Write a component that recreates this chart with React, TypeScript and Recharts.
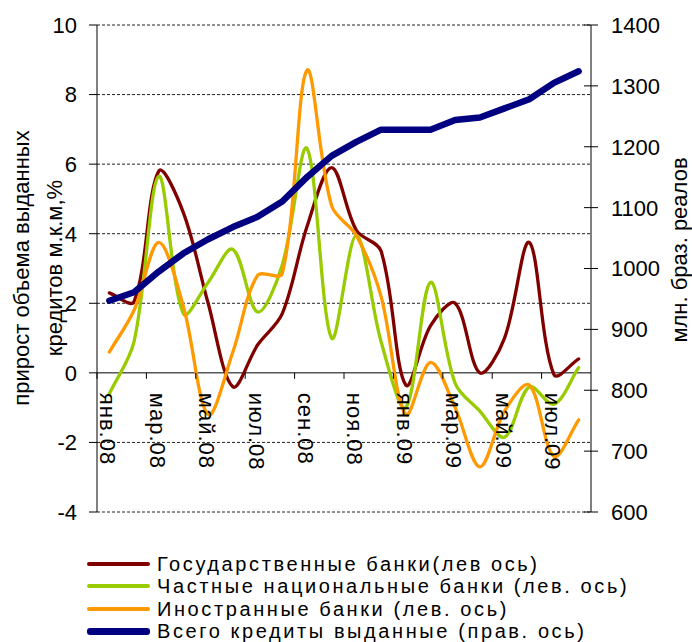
import React from 'react';
import { LineChart, Line, XAxis, YAxis, ReferenceLine } from 'recharts';

const months = [
    'янв.08', 'фев.08', 'мар.08', 'апр.08', 'май.08', 'июн.08', 'июл.08', 'авг.08', 'сен.08', 'окт.08',
    'ноя.08', 'дек.08', 'янв.09', 'фев.09', 'мар.09', 'апр.09', 'май.09', 'июн.09', 'июл.09', 'авг.09',
];
const stateBanks = [2.3, 2.05, 5.8, 4.6, 2.0, -0.4, 0.8, 1.7, 4.2, 5.9, 4.1, 3.5, -0.35, 1.35, 2.0, 0.0, 1.0, 3.75, -0.05, 0.4];
const privateBanks = [-0.6, 0.9, 5.65, 1.7, 2.6, 3.55, 1.75, 3.1, 6.45, 1.0, 3.95, 0.9, -1.0, 2.6, -0.3, -1.1, -1.85, -0.4, -0.9, 0.15];
const foreignBanks = [0.6, 1.8, 3.75, 1.9, -1.2, 0.6, 2.8, 2.85, 8.7, 4.8, 3.95, 2.2, -1.2, 0.3, -1.0, -2.7, -1.1, -0.35, -2.4, -1.35];
const totalCredit = [947, 961, 995, 1025, 1048, 1068, 1085, 1110, 1150, 1185, 1208, 1228, 1228, 1228, 1244, 1248, 1263, 1278, 1305, 1324];

const leftTicks = [-4, -2, 0, 2, 4, 6, 8, 10];
const rightTicks = [600, 700, 800, 900, 1000, 1100, 1200, 1300, 1400];

const series = [
    { key: 'state', name: 'Государственные банки(лев ось)', color: '#800000', width: 3.3 },
    { key: 'private', name: 'Частные национальные банки (лев. ось)', color: '#99CC00', width: 3.3 },
    { key: 'foreign', name: 'Иностранные банки (лев. ось)', color: '#FF9900', width: 3.3 },
    { key: 'total', name: 'Всего кредиты выданные (прав. ось)', color: '#000080', width: 6.5 },
];

const rows = months.map((m, i) => ({
    month: m,
    state: stateBanks[i],
    private: privateBanks[i],
    foreign: foreignBanks[i],
    total: totalCredit[i],
}));

const FONT = '"Liberation Sans", Arial, sans-serif';
const W = 692;
const H = 642;
const TOP = 25;
const LEFT_W = 97;
const RIGHT_W = 101;
const X_H = 130;
const PLOT_W = W - LEFT_W - RIGHT_W;
const PLOT_H = H - TOP - X_H;
const PLOT_RIGHT = W - RIGHT_W;
const HALF_BAND = PLOT_W / months.length / 2;
const ZERO_Y = TOP + PLOT_H * (10 / 14);

// excel-like smoothing: bezier through the points, tangents scaled by segment lengths
const excelSmooth = (context: any) => {
    let pts: number[][] = [];
    const dist = (a: number[], b: number[]) => Math.hypot(b[0] - a[0], b[1] - a[1]);
    return {
        areaStart() {},
        areaEnd() {},
        lineStart() { pts = []; },
        point(x: number, y: number) { pts.push([+x, +y]); },
        lineEnd() {
            const n = pts.length;
            if (!n) return;
            context.moveTo(pts[0][0], pts[0][1]);
            for (let i = 0; i < n - 1; i++) {
                const p0 = pts[Math.max(i - 1, 0)];
                const p1 = pts[i];
                const p2 = pts[i + 1];
                const p3 = pts[Math.min(i + 2, n - 1)];
                const d01 = dist(p0, p1);
                const d12 = dist(p1, p2);
                const d23 = dist(p2, p3);
                const a = d01 + d12 > 0 ? (d12 / (d01 + d12)) / 3 : 0;
                const b = d12 + d23 > 0 ? (d12 / (d12 + d23)) / 3 : 0;
                context.bezierCurveTo(
                    p1[0] + (p2[0] - p0[0]) * a, p1[1] + (p2[1] - p0[1]) * a,
                    p2[0] - (p3[0] - p1[0]) * b, p2[1] - (p3[1] - p1[1]) * b,
                    p2[0], p2[1]
                );
            }
        },
    };
};

const renderMonthTick = (props: any) => {
    const { x, index, payload } = props;
    if (index % 2 !== 0) return <g />;
    const ty = ZERO_Y + 20;
    const tx = x - 1.5;
    return (
        <g>
            <line x1={x - HALF_BAND} x2={x - HALF_BAND} y1={ZERO_Y} y2={ZERO_Y + 6} stroke="#000" />
            <text
                x={tx}
                y={ty}
                transform={`rotate(90, ${tx}, ${ty})`}
                textAnchor="start"
                dominantBaseline="central"
                fontSize={22}
                fontFamily={FONT}
                letterSpacing={1}
                fill="#000"
            >
                {payload.value}
            </text>
        </g>
    );
};

const renderRightTick = (props: any) => {
    const { y, payload } = props;
    return (
        <g>
            <line x1={PLOT_RIGHT - 7} x2={PLOT_RIGHT + 7} y1={y} y2={y} stroke="#000" />
            <text x={PLOT_RIGHT + 20} y={y} dy="0.36em" fontSize={22} fontFamily={FONT} fill="#000">
                {payload.value}
            </text>
        </g>
    );
};

const App: React.FC = () => {
    return (
        <div style={{ position: 'relative', width: W, height: H, fontFamily: FONT, color: '#000' }}>
            <style>{'body{margin:0}'}</style>
            <LineChart width={W} height={H} data={rows} margin={{ top: TOP, right: 0, bottom: 0, left: 0 }}>
                {leftTicks.filter(t => t !== 0).map(t => (
                    <ReferenceLine key={t} y={t} yAxisId="left" stroke="#222" strokeDasharray="3 2" />
                ))}
                <ReferenceLine y={0} yAxisId="left" stroke="#000" />
                <XAxis
                    dataKey="month"
                    interval={0}
                    axisLine={false}
                    tickLine={false}
                    height={X_H}
                    padding={{ left: HALF_BAND, right: HALF_BAND }}
                    tick={renderMonthTick}
                />
                <YAxis
                    yAxisId="left"
                    width={LEFT_W}
                    domain={[-4, 10]}
                    ticks={leftTicks}
                    interval={0}
                    tickSize={8}
                    tickMargin={12}
                    axisLine={{ stroke: '#000' }}
                    tickLine={{ stroke: '#000' }}
                    tick={{ fill: '#000', fontSize: 22, fontFamily: FONT }}
                />
                <YAxis
                    yAxisId="right"
                    orientation="right"
                    width={RIGHT_W}
                    domain={[600, 1400]}
                    ticks={rightTicks}
                    interval={0}
                    tickLine={false}
                    axisLine={{ stroke: '#000' }}
                    tick={renderRightTick}
                />
                {series.slice(0, 3).map(s => (
                    <Line
                        key={s.key}
                        yAxisId="left"
                        dataKey={s.key}
                        name={s.name}
                        type={excelSmooth as any}
                        stroke={s.color}
                        strokeWidth={s.width}
                        strokeLinejoin="round"
                        strokeLinecap="round"
                        dot={false}
                        activeDot={false}
                        isAnimationActive={false}
                    />
                ))}
                <Line
                    yAxisId="right"
                    dataKey="total"
                    name={series[3].name}
                    type="linear"
                    stroke={series[3].color}
                    strokeWidth={series[3].width}
                    strokeLinejoin="round"
                    strokeLinecap="round"
                    dot={false}
                    activeDot={false}
                    isAnimationActive={false}
                />
            </LineChart>

            <div
                style={{
                    position: 'absolute', left: 38, top: 268, transform: 'translate(-50%, -50%) rotate(-90deg)',
                    whiteSpace: 'nowrap', textAlign: 'center', fontSize: 22, lineHeight: '33px',
                }}
            >
                прирост объема выданных<br />кредитов м.к.м,%
            </div>
            <div
                style={{
                    position: 'absolute', left: 680, top: 250, transform: 'translate(-50%, -50%) rotate(-90deg)',
                    whiteSpace: 'nowrap', fontSize: 22, lineHeight: '24px',
                }}
            >
                млн. браз. реалов
            </div>

            <div style={{ position: 'absolute', left: 87, top: 552.8 }}>
                {series.map(s => (
                    <div key={s.key} style={{ display: 'flex', alignItems: 'center', height: 22.4 }}>
                        <div style={{ width: 63, height: s.width + 0.7, background: s.color, borderRadius: 3 }} />
                        <span style={{ marginLeft: 7, fontSize: 20, letterSpacing: 2.6, whiteSpace: 'nowrap', lineHeight: '22px' }}>
                            {s.name}
                        </span>
                    </div>
                ))}
            </div>
        </div>
    );
};

export default App;
